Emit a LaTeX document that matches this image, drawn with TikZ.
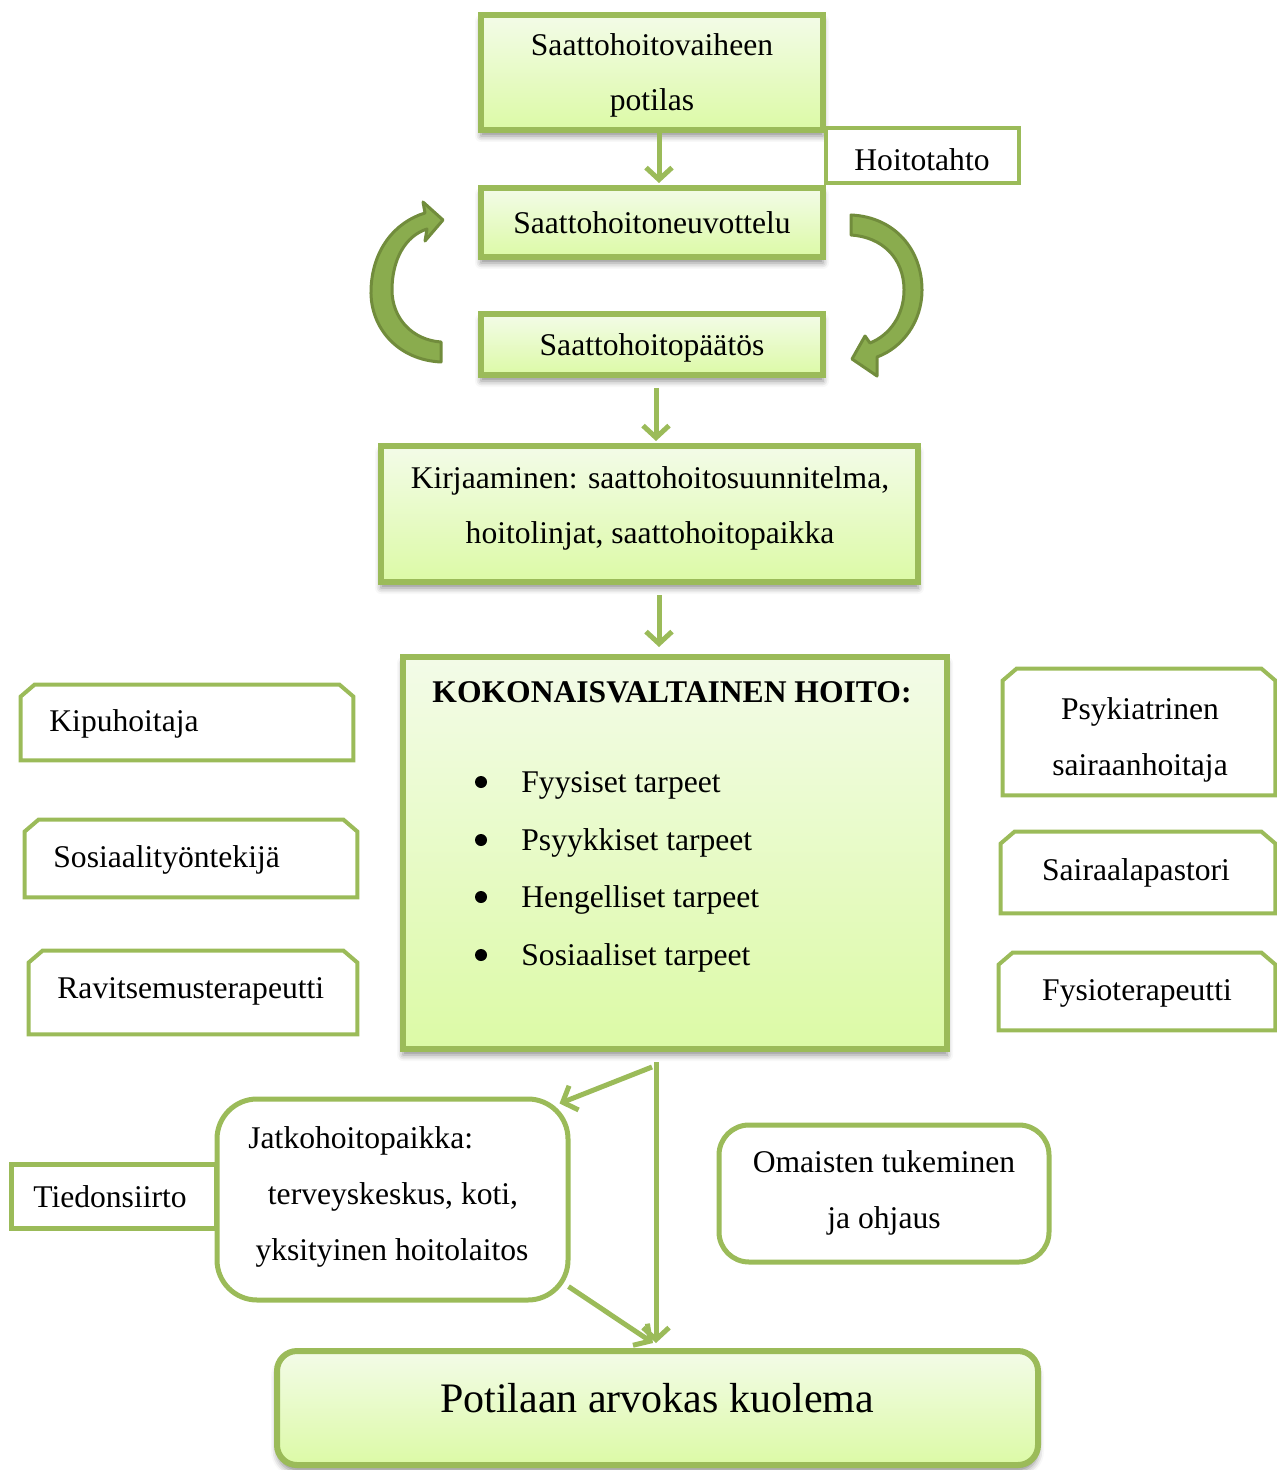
\documentclass[tikz,border=0pt]{standalone}
\usepackage{fontspec}
\setmainfont{Liberation Serif}
\usetikzlibrary{arrows.meta,shadows.blur}
\definecolor{boxgreen}{RGB}{155,187,89}
\definecolor{filltop}{RGB}{243,251,232}
\definecolor{fillbot}{RGB}{220,250,166}
\definecolor{curveline}{RGB}{113,140,60}
\definecolor{curvefill}{RGB}{138,172,78}

% outline with the two upper corners cut off, drawn round a named node
\newcommand\snipframe[1]{%
  \draw[sideline] (#1.south west) -- ([yshift=-6pt]#1.north west)
    -- ([xshift=7pt]#1.north west) -- ([xshift=-7pt]#1.north east)
    -- ([yshift=-6pt]#1.north east) -- (#1.south east) -- cycle;}

\begin{document}
\begin{tikzpicture}[x=0.5pt,y=-0.5pt,
  txt/.style={font=\fontsize{15.8}{27.5}\selectfont, inner sep=0pt, align=center, yshift=-1.5pt},
  stepbox/.style={draw=boxgreen, line width=3pt, top color=filltop, bottom color=fillbot,
    inner sep=0pt, blur shadow={shadow xshift=0pt, shadow yshift=-3pt,
    shadow blur radius=3pt, shadow opacity=45}},
  notebox/.style={draw=boxgreen, line width=2pt, fill=white, inner sep=0pt},
  sidebox/.style={draw=none, inner sep=0pt},
  sideline/.style={draw=boxgreen, line width=2pt, line join=miter},
  roundbox/.style={draw=boxgreen, line width=2.5pt, fill=white, inner sep=0pt},
  dot/.style={circle, fill=black, inner sep=0pt, minimum size=6pt},
  conn/.style={draw=boxgreen, line width=2.5pt, -{Straight Barb[length=6pt,width=13pt]}},
  curvearrow/.style={draw=curveline, line width=1.5pt, fill=curvefill, line join=round}]
\useasboundingbox (0,0) rectangle (1277,1470);

% ---- main chain ----
\node[stepbox, minimum width=171pt, minimum height=57.5pt] (top) at (652,72.5) {};
\node[txt] (toptxt) at (652,72.5) {Saattohoitovaiheen\\potilas};

\node[notebox, minimum width=96.5pt, minimum height=27.5pt] (tahto) at (922.5,155.5) {};
\node[txt] (tahtotxt) at (922,157) {Hoitotahto};

\node[stepbox, minimum width=171pt, minimum height=34.5pt] (neuv) at (652,222.5) {};
\node[txt] (neuvtxt) at (652,220) {Saattohoitoneuvottelu};

\node[stepbox, minimum width=171pt, minimum height=30.5pt] (paatos) at (652,344.5) {};
\node[txt] (paatostxt) at (652,345) {Saattohoitopäätös};

\node[stepbox, minimum width=268.5pt, minimum height=68pt] (kirj) at (649.5,514) {};
\node[txt] (kirjtxt) at (650,505) {Kirjaaminen: saattohoitosuunnitelma,\\hoitolinjat, saattohoitopaikka};

\node[stepbox, minimum width=272pt, minimum height=196pt] (main) at (675,853) {};
\node[txt, font=\fontsize{15.8}{19}\selectfont\bfseries] (title) at (672,689) {KOKONAISVALTAINEN HOITO:};
\foreach \yy/\lab/\nm in {782/Fyysiset tarpeet/b1, 840/Psyykkiset tarpeet/b2,
                         897/Hengelliset tarpeet/b3, 955/Sosiaaliset tarpeet/b4}{
  \node[dot] (\nm dot) at (481,\yy) {};
  \node[txt, anchor=west] (\nm) at (521,\yy) {\lab};
}

% ---- turning arrows between the meeting and the decision ----
\draw[curvearrow] (441,362) .. controls (398,360) and (370,328) .. (371,290)
  .. controls (372,250) and (395,222) .. (425,213) -- (423,202) -- (443,220)
  -- (425,241) -- (427,229) .. controls (405,236) and (392,260) .. (392,290)
  .. controls (392,318) and (412,340) .. (441,342) -- cycle;
\draw[curvearrow] (851,215) .. controls (895,217) and (922,250) .. (922,290)
  .. controls (922,322) and (902,348) .. (877,357) -- (877,376) -- (852,359)
  -- (865,336) -- (870,343) .. controls (890,335) and (904,315) .. (904,290)
  .. controls (904,258) and (882,237) .. (851,235) -- cycle;

% ---- professionals, left ----
\node[sidebox, minimum width=166pt, minimum height=37.5pt] (kipu) at (187,722.5) {};
\snipframe{kipu}
\node[txt, anchor=west] (kiputxt) at (49,721) {Kipuhoitaja};
\node[sidebox, minimum width=166pt, minimum height=38.5pt] (sos) at (191,858.5) {};
\snipframe{sos}
\node[txt, anchor=west] (sostxt) at (53,857) {Sosiaalityöntekijä};
\node[sidebox, minimum width=164pt, minimum height=41.5pt] (rav) at (193,992.5) {};
\snipframe{rav}
\node[txt, anchor=west] (ravtxt) at (57,988) {Ravitsemusterapeutti};

% ---- professionals, right ----
\node[sidebox, minimum width=136pt, minimum height=63pt] (psyk) at (1139,732) {};
\snipframe{psyk}
\node[txt, font=\fontsize{15.8}{28}\selectfont] (psyktxt) at (1140,737) {Psykiatrinen\\sairaanhoitaja};
\node[sidebox, minimum width=137pt, minimum height=40.5pt] (sair) at (1138,872.5) {};
\snipframe{sair}
\node[txt] (sairtxt) at (1136,870) {Sairaalapastori};
\node[sidebox, minimum width=138pt, minimum height=38.5pt] (fys) at (1137,991.5) {};
\snipframe{fys}
\node[txt] (fystxt) at (1137,990) {Fysioterapeutti};

% ---- continuation ----
\node[notebox, line width=2.5pt, minimum width=102.5pt, minimum height=32pt] (tied) at (113.5,1196) {};
\node[txt] (tiedtxt) at (110,1194) {Tiedonsiirto};
\node[roundbox, rounded corners=20pt, minimum width=175.5pt, minimum height=100.5pt] (jatko) at (392.5,1199.5) {};
\node[txt, anchor=west] (jatko1) at (248,1138) {Jatkohoitopaikka:};
\node[txt] (jatko2) at (393,1194) {terveyskeskus, koti,};
\node[txt] (jatko3) at (392,1250) {yksityinen hoitolaitos};

\node[roundbox, rounded corners=15pt, minimum width=165pt, minimum height=68.5pt] (omai) at (884,1193.5) {};
\node[txt, font=\fontsize{15.8}{28}\selectfont] (omaitxt) at (884,1190) {Omaisten tukeminen\\ja ohjaus};

\node[stepbox, rounded corners=10pt, minimum width=380.5pt, minimum height=57pt] (pot) at (657.5,1408) {};
\node[txt, font=\fontsize{21}{25}\selectfont] (pottxt) at (657,1395) {Potilaan arvokas kuolema};

% ---- connectors ----
\draw[conn] ([xshift=3.5pt]top.south) -- ([xshift=3.5pt,yshift=1pt]neuv.north);
\draw[conn] ([xshift=2pt,yshift=-5pt]paatos.south) -- ([xshift=3.25pt,yshift=1pt]kirj.north);
\draw[conn] ([xshift=4.75pt,yshift=-5pt]kirj.south) -- ([xshift=-8pt,yshift=3.5pt]main.north);
\draw[conn] ([xshift=-9.5pt,yshift=-5pt]main.south) -- ([xshift=-0.75pt,yshift=2.5pt]pot.north);
\draw[conn] ([xshift=-11.5pt,yshift=-7.5pt]main.south) -- ([xshift=-5.5pt,yshift=-3.5pt]jatko.north east);
\draw[conn] ([xshift=-1pt,yshift=8pt]jatko.south east) -- ([xshift=-2.25pt,yshift=2.5pt]pot.north);
\end{tikzpicture}
\end{document}
